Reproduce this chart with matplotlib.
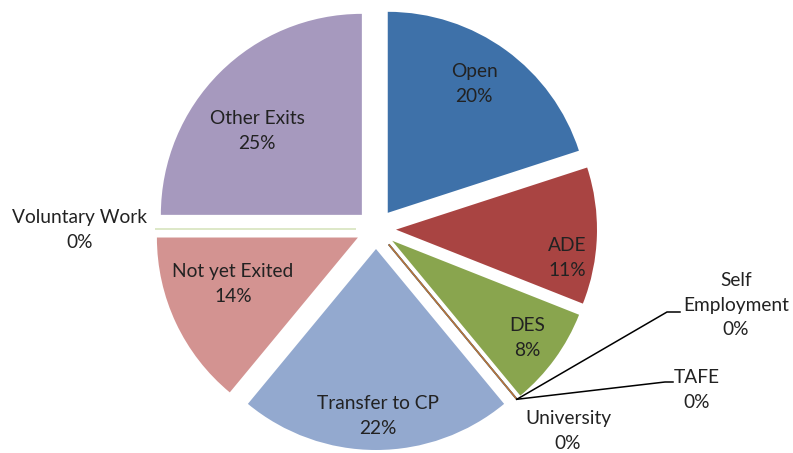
import matplotlib
matplotlib.use("Agg")
import matplotlib.pyplot as plt
import numpy as np

categories = ["Open", "ADE", "DES", "University", "TAFE", "Self Employment",
              "Transfer to CP", "Not yet Exited", "Voluntary Work", "Other Exits"]
values = [20, 11, 8, 0, 0, 0, 22, 14, 0, 25]
label_text = ["Open", "ADE", "DES", "University", "TAFE", "Self\nEmployment",
              "Transfer to CP", "Not yet Exited", "Voluntary Work", "Other Exits"]
colors = ["#3E71A9", "#A94442", "#89A54E", "#664F82", "#31869B", "#B8733A",
          "#93A9CF", "#D39391", "#D7E4BD", "#A699BE"]

W, H = 793, 453
fig = plt.figure(figsize=(W / 100, H / 100), dpi=100)
ax = fig.add_axes([0, 0, 1, 1])

cx, cy, R = 376, H - 229, 201
wedges, _ = ax.pie(values, colors=colors, startangle=90, counterclock=False,
                   center=(cx, cy), radius=R, explode=[20] * len(values),
                   frame=True)
ax.set_xlim(0, W)
ax.set_ylim(0, H)
ax.set_aspect("equal")
ax.axis("off")

for w, v, c in zip(wedges, values, colors):
    if v == 0:
        w.set_edgecolor(c)
        w.set_linewidth(1.2)
    else:
        w.set_linewidth(0)

# label positions (pixel coordinates, top-left origin)
label_pos = {
    "Open": (474, 84),
    "ADE": (567, 258),
    "DES": (527, 338),
    "University": (568, 431),
    "TAFE": (697, 390),
    "Self Employment": (736, 305),
    "Transfer to CP": (378, 416),
    "Not yet Exited": (233, 284),
    "Voluntary Work": (80, 230),
    "Other Exits": (257, 131),
}
font = dict(family="Lato", fontsize=13.8, color="#222222",
            ha="center", va="center", linespacing=1.55)
for name, txt, v in zip(categories, label_text, values):
    x, y = label_pos[name]
    ax.text(x, H - y, f"{txt}\n{v}%", **font)

# leader lines for the zero-sized slices
elbows = {"TAFE": ((665, 382), (673, 382)),
          "Self Employment": ((667, 312), (680, 312))}
for name, w in zip(categories, wedges):
    if name in elbows:
        th = np.deg2rad(w.theta1)
        px = w.center[0] + w.r * np.cos(th)
        py = w.center[1] + w.r * np.sin(th)
        (ex, ey), (hx, hy) = elbows[name]
        ax.plot([px, ex, hx], [py, H - ey, H - hy], color="black", lw=1.1,
                solid_joinstyle="miter")

fig.savefig("out.png", dpi=100)
